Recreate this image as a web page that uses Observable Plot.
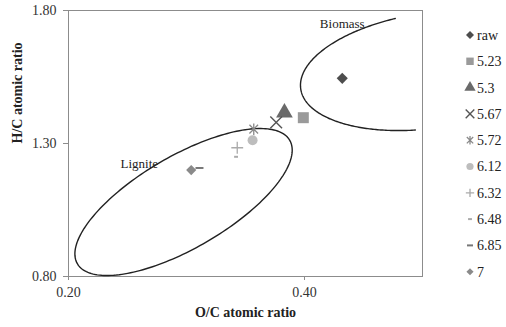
<!DOCTYPE html>
<html><head><meta charset="utf-8">
<script src="https://cdn.jsdelivr.net/npm/d3@7"></script>
<script src="https://cdn.jsdelivr.net/npm/@observablehq/plot@0.6"></script>
<style>
body{margin:0;background:#fff;}
#wrap{position:relative;width:506px;height:327px;overflow:hidden;}
#legend{position:absolute;left:456px;top:0;}
</style></head><body><div id="wrap"></div>
<script>
// ---- data ----
const series = ["raw","5.23","5.3","5.67","5.72","6.12","6.32","6.48","6.85","7"];
const ocRatio = [0.432,0.399,0.383,0.376,0.357,0.356,0.343,0.342,0.311,0.304];
const hcRatio = [1.545,1.397,1.416,1.379,1.354,1.312,1.284,1.250,1.208,1.200];
const xTicks = [0.2, 0.4];
const yTicks = [0.8, 1.3, 1.8];
const regionNames = ["Lignite", "Biomass"];
const regionLabelX = [0.26, 0.432];
const regionLabelY = [1.225, 1.751];
// region ellipses: centre, two conjugate half-axis vectors (data units), arc range
const regionCx = [0.2975, 0.5068];
const regionCy = [1.0800, 1.5744];
const regionU = [[0.0900, 0.2320], [0.1100, 0.0690]];
const regionV = [[0.0195, -0.1500], [0.00683, -0.2150]];
const regionT = [[0, 2 * Math.PI], [1.75, 4.50]];

// ---- styles ----
const dash = {draw(ctx, size){ const r = Math.sqrt(size) / 2; ctx.moveTo(-r, 0); ctx.lineTo(r, 0); }};
const star = {draw(ctx, size){ const r = Math.sqrt(size) * 0.6, d = r * 0.75;
  ctx.moveTo(0, -r); ctx.lineTo(0, r);
  ctx.moveTo(-d, -d); ctx.lineTo(d, d);
  ctx.moveTo(-d, d); ctx.lineTo(d, -d); }};
const styles = {
  "raw":  {symbol: d3.symbolDiamond2, r: 5,   fill: "#4d4d4d", stroke: "none", lr: 3.6},
  "5.23": {symbol: d3.symbolSquare,   r: 6.2, fill: "#9a9a9a", stroke: "none", lr: 4.2},
  "5.3":  {symbol: d3.symbolTriangle, r: 6.2, fill: "#6a6a6a", stroke: "none", lr: 4.2},
  "5.67": {symbol: d3.symbolTimes,    r: 5.4, fill: "none", stroke: "#555", sw: 1.4, lr: 4},
  "5.72": {symbol: star,              r: 5.4, fill: "none", stroke: "#8a8a8a", sw: 1.3, lr: 4},
  "6.12": {symbol: d3.symbolCircle,   r: 5,   fill: "#bdbdbd", stroke: "none", lr: 3.6},
  "6.32": {symbol: d3.symbolPlus,     r: 3.9, fill: "none", stroke: "#aaa", sw: 1.3, lr: 2.8},
  "6.48": {symbol: dash,              r: 2.2, fill: "none", stroke: "#aaa", sw: 2, lr: 2.2},
  "6.85": {symbol: dash,              r: 4.5, fill: "none", stroke: "#777", sw: 2, lr: 3.4},
  "7":    {symbol: d3.symbolDiamond2, r: 4.6, fill: "#8a8a8a", stroke: "none", lr: 3.2}
};

const points = series.map((s, i) => ({series: s, oc: ocRatio[i], hc: hcRatio[i]}));
const ellipses = regionCx.flatMap((cx, k) => {
  const [t0, t1] = regionT[k];
  return d3.range(0, 201).map(j => {
    const t = t0 + (t1 - t0) * j / 200;
    return {k, x: cx + regionU[k][0] * Math.cos(t) + regionV[k][0] * Math.sin(t),
               y: regionCy[k] + regionU[k][1] * Math.cos(t) + regionV[k][1] * Math.sin(t)};
  });
});
const labels = regionNames.map((n, i) => ({name: n, x: regionLabelX[i], y: regionLabelY[i]}));

const dotMarks = points.map(p => {
  const st = styles[p.series];
  return Plot.dot([p], {x: "oc", y: "hc", symbol: () => st.symbol, r: st.r,
    fill: st.fill, stroke: st.stroke, strokeWidth: st.sw || 1});
});

const plot = Plot.plot({
  width: 506, height: 327,
  marginLeft: 68, marginRight: 84, marginTop: 10, marginBottom: 51,
  style: {fontFamily: "'Liberation Serif','Times New Roman',serif", fontSize: "14px", color: "#333", background: "#fff"},
  x: {domain: [0.2, 0.5]},
  y: {domain: [0.8, 1.8]},
  symbol: {type: "identity"},
  marks: [
    Plot.frame({stroke: "#8c8c8c"}),
    Plot.axisX(xTicks, {tickFormat: d3.format(".2f"), tickSize: 4, tickPadding: 7, stroke: "#8c8c8c", label: null}),
    Plot.axisY(yTicks, {tickFormat: d3.format(".2f"), tickSize: 5, tickPadding: 7, stroke: "#8c8c8c", label: null}),
    Plot.line(ellipses, {x: "x", y: "y", z: "k", stroke: "#222", strokeWidth: 1.4, curve: "linear"}),
    Plot.text(labels, {x: "x", y: "y", text: "name", fill: "#222", fontSize: 13}),
    ...dotMarks,
    Plot.text(["O/C atomic ratio"], {frameAnchor: "bottom", dy: 40, fontWeight: "bold", fill: "#222", fontSize: 14}),
    Plot.text(["H/C atomic ratio"], {frameAnchor: "left", dx: -51, rotate: -90, fontWeight: "bold", fill: "#222", fontSize: 14})
  ]
});
document.getElementById("wrap").appendChild(plot);

// ---- legend ----
const lg = d3.select("#wrap").append("svg").attr("id", "legend").attr("width", 50).attr("height", 327);
series.forEach((s, i) => {
  const st = styles[s];
  const y = 35 + i * 26.3;
  lg.append("path").attr("transform", `translate(14,${y})`)
    .attr("d", d3.symbol(st.symbol, Math.PI * st.lr * st.lr)())
    .attr("fill", st.fill).attr("stroke", st.stroke).attr("stroke-width", st.sw || 1);
  lg.append("text").attr("x", 21).attr("y", y).attr("dy", "0.35em")
    .attr("font-family", "'Liberation Serif','Times New Roman',serif").attr("font-size", 14)
    .attr("fill", "#222").text(s);
});
</script></body></html>
